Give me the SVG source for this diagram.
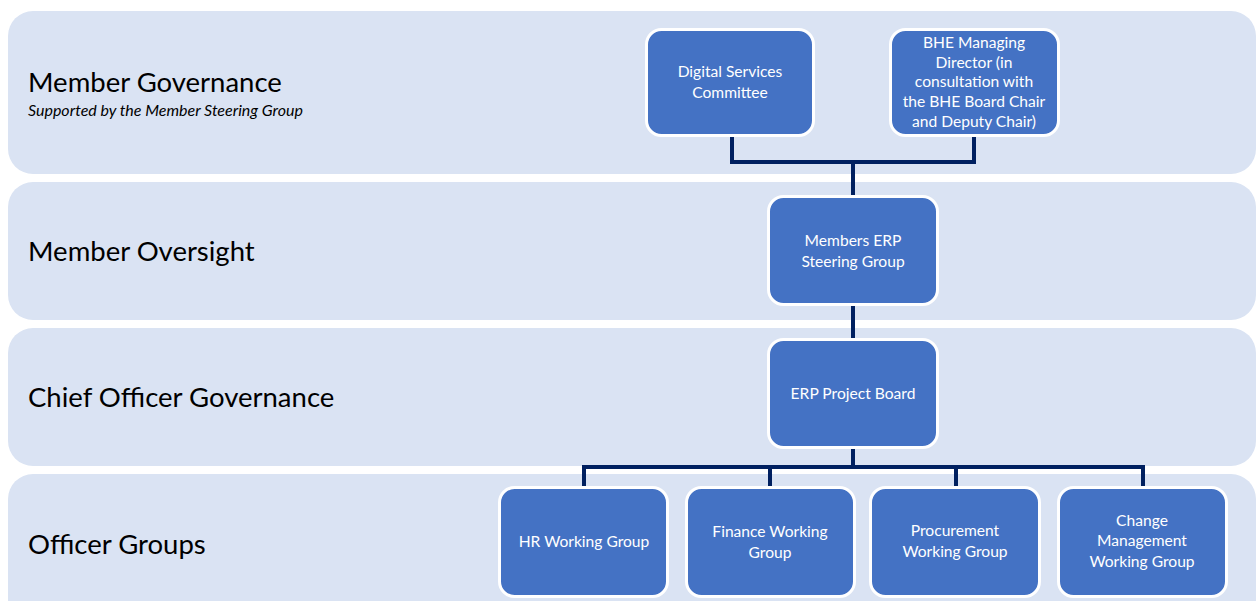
<svg xmlns="http://www.w3.org/2000/svg" width="1258" height="601" viewBox="0 0 1258 601">
<style>
.band{fill:#DAE3F3;}
.node{fill:#4472C4;stroke:#FFFFFF;stroke-width:3;}
.lbl{font-family:Lato,"Open Sans",sans-serif;font-size:27.5px;fill:#000;}
.sub{font-family:Lato,"Open Sans",sans-serif;font-size:16px;font-style:italic;fill:#000;}
.nt{font-family:Lato,"Open Sans",sans-serif;font-size:15.6px;fill:#FFFFFF;text-anchor:middle;}
.con{fill:none;stroke:#002060;stroke-width:4;}
</style>
<rect width="1258" height="601" fill="#FFFFFF"/>
<g id="bands">
<rect class="band" x="8" y="11" width="1248" height="163" rx="25"/>
<rect class="band" x="8" y="182" width="1248" height="138" rx="25"/>
<rect class="band" x="8" y="328" width="1248" height="138" rx="25"/>
<rect class="band" x="8" y="474" width="1248" height="160" rx="25"/>
<text class="lbl" x="28" y="92">Member Governance</text>
<text class="sub" x="28" y="116">Supported by the Member Steering Group</text>
<text class="lbl" x="28" y="261">Member Oversight</text>
<text class="lbl" x="28" y="407">Chief Officer Governance</text>
<text class="lbl" x="28" y="554">Officer Groups</text>
</g>
<g id="connectors">
<path class="con" d="M732 137 V162 H974 V137"/>
<path class="con" d="M853 162 V195"/>
<path class="con" d="M853 306 V338"/>
<path class="con" d="M853 449 V467"/>
<path class="con" d="M584 486 V467 H1143 V486"/>
<path class="con" d="M770 467 V486"/>
<path class="con" d="M956 467 V486"/>
</g>
<g id="digital-services">
<rect class="node" x="646.5" y="29.5" width="167" height="106" rx="15"/>
<text class="nt" x="730" y="77">Digital Services</text>
<text class="nt" x="730" y="98">Committee</text>
</g>
<g id="bhe-md">
<rect class="node" x="890.5" y="29.5" width="168" height="106" rx="15"/>
<text class="nt" x="974" y="48">BHE Managing</text>
<text class="nt" x="974" y="68">Director (in</text>
<text class="nt" x="974" y="87">consultation with</text>
<text class="nt" x="974" y="107">the BHE Board Chair</text>
<text class="nt" x="974" y="127">and Deputy Chair)</text>
</g>
<g id="members-erp">
<rect class="node" x="768.5" y="196.5" width="169" height="108" rx="15"/>
<text class="nt" x="853" y="246">Members ERP</text>
<text class="nt" x="853" y="267">Steering Group</text>
</g>
<g id="erp-board">
<rect class="node" x="768.5" y="339.5" width="169" height="108" rx="15"/>
<text class="nt" x="853" y="399">ERP Project Board</text>
</g>
<g id="hr">
<rect class="node" x="499.5" y="487.5" width="168" height="109" rx="15"/>
<text class="nt" x="584" y="547">HR Working Group</text>
</g>
<g id="finance">
<rect class="node" x="686.5" y="487.5" width="168" height="109" rx="15"/>
<text class="nt" x="770" y="537">Finance Working</text>
<text class="nt" x="770" y="558">Group</text>
</g>
<g id="procurement">
<rect class="node" x="870.5" y="487.5" width="169" height="109" rx="15"/>
<text class="nt" x="955" y="536">Procurement</text>
<text class="nt" x="955" y="557">Working Group</text>
</g>
<g id="change">
<rect class="node" x="1058.5" y="487.5" width="168" height="109" rx="15"/>
<text class="nt" x="1142" y="526">Change</text>
<text class="nt" x="1142" y="546">Management</text>
<text class="nt" x="1142" y="567">Working Group</text>
</g>
</svg>
